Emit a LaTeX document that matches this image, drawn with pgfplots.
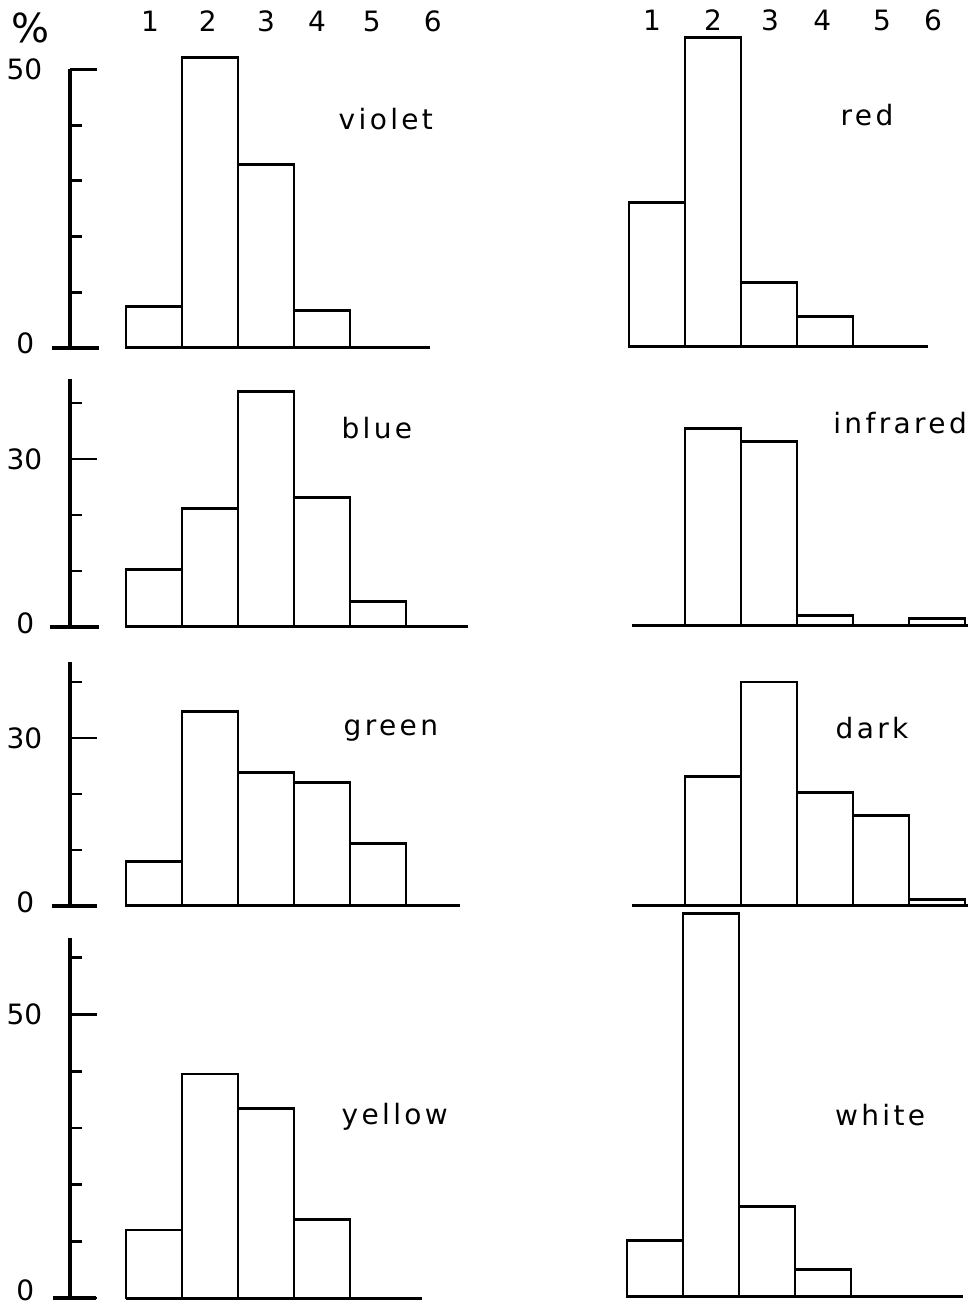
\documentclass[border=0pt]{standalone}
\usepackage{fontspec}
\setmainfont{DejaVu Sans}
\newfontfamily\letfont[LetterSpace=12]{DejaVu Sans}
\usepackage{pgfplots}
\pgfplotsset{compat=1.18}

% histogram bars, baselines and the heavy zero tick
\pgfplotsset{
  hist/.style={ybar, bar width=1, fill=white, draw=black, line width=1.45pt, mark=none},
  base/.style={black, line width=1.5pt, mark=none},
  zerotick/.style={black, line width=2.4pt, mark=none},
  panel/.style={anchor=south west, clip=false, x=28pt, xmin=-1, xmax=6.1, ymin=0},
  leftpanel/.style={panel, axis y line=left, axis x line=none,
    axis line style={-, line width=1.7pt},
    tick align=inside, tick style={black, line width=1.4pt},
    major tick length=13.5pt, minor tick length=6pt,
    yticklabel style={font=\fontsize{14}{14}\selectfont, inner sep=1pt, xshift=-12.7pt},
    extra y ticks={0}, extra y tick labels={0}},
  zeroshift/.style={extra y tick style={yticklabel style={yshift=#1, xshift=-4pt}}},
  rightpanel/.style={panel, xmin=0, ymax=50, hide axis},
}
\tikzset{
  pname/.style={font=\fontsize{14}{16}\selectfont\letfont, anchor=center, inner sep=0pt},
  colnum/.style={font=\fontsize{14}{16}\selectfont, anchor=center, inner sep=0pt},
}

\begin{document}
\begin{tikzpicture}
\path[use as bounding box] (0,0) rectangle (486pt,653.5pt);

% ---------------- left column ----------------
% violet
\begin{axis}[leftpanel, zeroshift=2.5pt, at={(35pt,479.5pt)}, y=2.785pt, ymax=50,
  ytick={50}, yticklabels={50}, minor ytick={10,20,30,40}]
\addplot[hist] coordinates {(0.5,7.5) (1.5,52.1) (2.5,32.9) (3.5,6.8)};
\addplot[base] coordinates {(0,0) (5.43,0)};
\addplot[zerotick] coordinates {(-1.32,0) (-0.48,0)};
\node[pname] at (axis cs:4.64,41.1) {violet};
\node[font=\fontsize{20}{20}\selectfont, inner sep=0pt] at (axis cs:-1.70,57.5) {\%};
\node[colnum] at (axis cs:0.43,58.6) {1};
\node[colnum] at (axis cs:1.46,58.6) {2};
\node[colnum] at (axis cs:2.50,58.6) {3};
\node[colnum] at (axis cs:3.41,58.6) {4};
\node[colnum] at (axis cs:4.39,58.6) {5};
\node[colnum] at (axis cs:5.48,58.6) {6};
\end{axis}

% blue
\begin{axis}[leftpanel, zeroshift=2pt, at={(35pt,340pt)}, y=2.8pt, ymax=44.3,
  ytick={30}, yticklabels={30}, minor ytick={10,20,40}]
\addplot[hist] coordinates {(0.5,10.2) (1.5,21.1) (2.5,42.0) (3.5,23.2) (4.5,4.5)};
\addplot[base] coordinates {(0,0) (6.1,0)};
\addplot[zerotick] coordinates {(-1.36,0) (-0.48,0)};
\node[pname] at (axis cs:4.48,35.5) {blue};
\end{axis}

% green
\begin{axis}[leftpanel, zeroshift=2pt, at={(35pt,200.5pt)}, y=2.8pt, ymax=43.6,
  ytick={30}, yticklabels={30}, minor ytick={10,20,40}]
\addplot[hist] coordinates {(0.5,8.0) (1.5,34.8) (2.5,23.9) (3.5,22.1) (4.5,11.2)};
\addplot[base] coordinates {(0,0) (5.96,0)};
\addplot[zerotick] coordinates {(-1.32,0) (-0.52,0)};
\node[pname] at (axis cs:4.73,31.4) {green};
\end{axis}

% yellow
\begin{axis}[leftpanel, zeroshift=4pt, at={(35pt,4.5pt)}, y=2.835pt, ymax=63.5,
  ytick={50}, yticklabels={50}, minor ytick={10,20,30,40,60}]
\addplot[hist] coordinates {(0.5,12.0) (1.5,39.5) (2.5,33.5) (3.5,13.9)};
\addplot[base] coordinates {(0,0) (5.29,0)};
\addplot[zerotick] coordinates {(-1.30,0) (-0.54,0)};
\node[pname] at (axis cs:4.80,31.9) {yellow};
\end{axis}

% ---------------- right column ----------------
% red
\begin{axis}[rightpanel, at={(314.5pt,480pt)}, y=2.785pt]
\addplot[hist] coordinates {(0.5,25.9) (1.5,55.5) (2.5,11.5) (3.5,5.4)};
\addplot[base] coordinates {(0,0) (5.34,0)};
\node[pname] at (axis cs:4.25,41.6) {red};
\node[colnum] at (axis cs:0.41,58.7) {1};
\node[colnum] at (axis cs:1.50,58.7) {2};
\node[colnum] at (axis cs:2.52,58.7) {3};
\node[colnum] at (axis cs:3.45,58.7) {4};
\node[colnum] at (axis cs:4.52,58.7) {5};
\node[colnum] at (axis cs:5.43,58.7) {6};
\end{axis}

% infrared
\begin{axis}[rightpanel, at={(314.5pt,340.5pt)}, y=2.8pt]
\addplot[hist] coordinates {(1.5,35.2) (2.5,32.9) (3.5,1.8) (5.5,1.3)};
\addplot[base] coordinates {(0.05,0) (6.05,0)};
\node[pname] at (axis cs:4.84,36.25) {infrared};
\end{axis}

% dark
\begin{axis}[rightpanel, at={(314.5pt,200.5pt)}, y=2.8pt]
\addplot[hist] coordinates {(1.5,23.2) (2.5,40.0) (3.5,20.2) (4.5,16.1) (5.5,1.1)};
\addplot[base] coordinates {(0.05,0) (6.05,0)};
\node[pname] at (axis cs:4.34,31.8) {dark};
\end{axis}

% white
\begin{axis}[rightpanel, at={(313.5pt,5pt)}, y=2.835pt]
\addplot[hist] coordinates {(0.5,9.9) (1.5,67.7) (2.5,16.0) (3.5,4.8)};
\addplot[base] coordinates {(0,0) (6.0,0)};
\node[pname] at (axis cs:4.52,32.1) {white};
\end{axis}
\end{tikzpicture}
\end{document}
